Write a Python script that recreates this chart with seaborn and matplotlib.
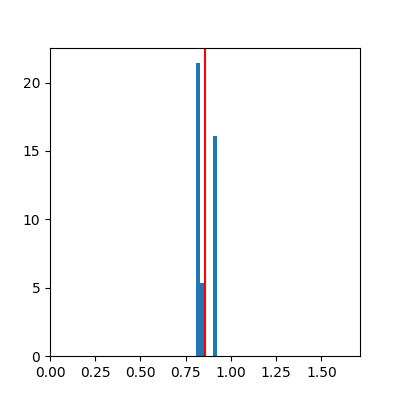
import seaborn as sns
from matplotlib import pyplot as plt

# sample values (8 points)
values = [0.807, 0.815, 0.820, 0.825, 0.845, 0.910, 0.915, 0.9235]
ref_value = 0.856
x_max = 1.713

fig, ax = plt.subplots(figsize=(4, 4), dpi=100)
sns.histplot(
    x=values,
    bins=5,
    stat='density',
    color='#1f77b4',
    alpha=1,
    linewidth=0,
    ax=ax,
)
ax.axvline(ref_value, color='red', linewidth=1.5)
ax.set_xlim(0, x_max)
ax.set_xlabel('')
ax.set_ylabel('')
fig.savefig('out.png')
